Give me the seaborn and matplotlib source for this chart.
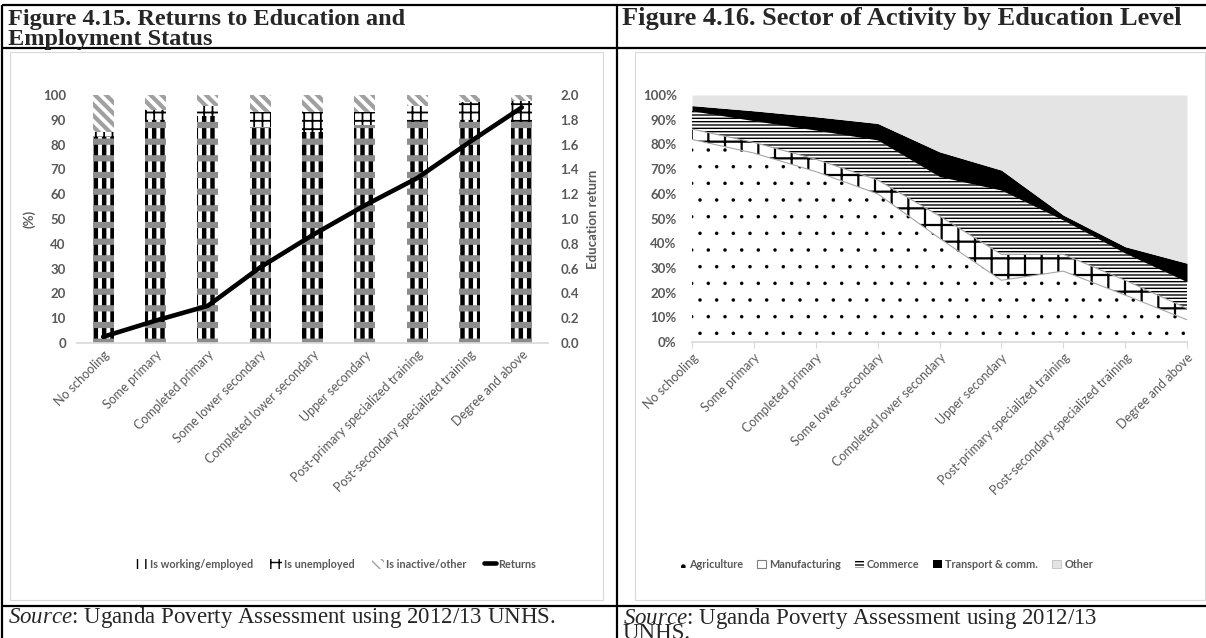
import numpy as np
import pandas as pd
import matplotlib
matplotlib.use("Agg")
import matplotlib.pyplot as plt
import seaborn as sns
from matplotlib.patches import Rectangle, Patch
from matplotlib.lines import Line2D
from matplotlib.legend_handler import HandlerTuple

# ---------------- data ----------------
levels = ["No schooling", "Some primary", "Completed primary", "Some lower secondary",
          "Completed lower secondary", "Upper secondary",
          "Post-primary specialized training", "Post-secondary specialized training",
          "Degree and above"]

# Figure 4.15: employment status shares (%) and education returns
working = [83, 90, 91.5, 87, 85, 88, 89, 90, 89]
unemployed = [2, 4, 4, 6, 8, 5, 6.5, 7, 8.5]
inactive = [15, 6, 4.5, 7, 7, 7, 4.5, 3, 2.5]
returns = [0.05, 0.18, 0.30, 0.61, 0.87, 1.11, 1.33, 1.62, 1.90]

# Figure 4.16: sector of activity shares (%)
agriculture = [82, 76.5, 69, 60, 42, 25, 28.7, 19, 9]
manufacturing = [4.2, 4.3, 5, 5.6, 9, 10.5, 6.8, 6, 4.6]
commerce = [7.4, 8.8, 11.8, 16.2, 16, 26, 13.9, 11, 10.8]
transport = [2.1, 4, 5.4, 6.7, 10, 8.1, 2, 2.6, 7.5]
other = [4.3, 6.4, 8.8, 11.5, 23, 30.4, 48.6, 61.4, 68.1]

pct_ticks = list(range(0, 101, 10))
ret_ticks = [0.0, 0.2, 0.4, 0.6, 0.8, 1.0, 1.2, 1.4, 1.6, 1.8, 2.0]

# ---------------- style ----------------
sns.set_theme(style="white")
plt.rcParams["font.family"] = ["Lato", "DejaVu Sans"]
plt.rcParams["hatch.linewidth"] = 1.0
plt.rcParams["mathtext.fontset"] = "custom"
plt.rcParams["mathtext.rm"] = "Liberation Serif"
plt.rcParams["mathtext.it"] = "Liberation Serif:italic"

W, H = 1206, 638
fig = plt.figure(figsize=(W / 100, H / 100), dpi=100)
GREY_TXT = "#595959"
AX_LINE = "#D9D9D9"
SERIF = ["Liberation Serif", "DejaVu Serif"]
LEG_PROP = {"family": ["Lato", "DejaVu Sans"], "weight": "bold", "size": 7.8}
TICK_SIZE = 9.0


def rect(x0, y0, x1, y1):
    return [x0 / W, 1 - y1 / H, (x1 - x0) / W, (y1 - y0) / H]


def fx(x):
    return x / W


def fy(y):
    return 1 - y / H


def hatch_style(artists, face, hatch, hcolor, hlw):
    for a in artists:
        a.set_facecolor(face)
        a.set_edgecolor(hcolor)
        a.set_linewidth(0)
        if hatch:
            a.set_hatch(hatch)
        if hasattr(a, "set_hatch_linewidth"):
            a.set_hatch_linewidth(hlw)
    return artists


# ---------------- table frame ----------------
def hline(y, x0, x1, lw=1.6):
    fig.add_artist(Line2D([fx(x0), fx(x1)], [fy(y), fy(y)], transform=fig.transFigure,
                          color="black", lw=lw, solid_capstyle="butt"))


def vline(x, y0, y1, lw=1.6):
    fig.add_artist(Line2D([fx(x), fx(x)], [fy(y0), fy(y1)], transform=fig.transFigure,
                          color="black", lw=lw, solid_capstyle="butt"))


hline(5, 2, W)
hline(48, 2, W)
hline(606, 2, W)
vline(2, 5, H)
vline(617, 5, H)

# chart frames
for (x0, y0, x1, y1) in [(10, 52, 603, 600), (635, 52, 1205, 600)]:
    fig.add_artist(Rectangle((fx(x0), fy(y1)), fx(x1) - fx(x0), fy(y0) - fy(y1),
                             transform=fig.transFigure, fill=False,
                             edgecolor=AX_LINE, lw=0.8))

# titles and sources (multi-line texts are anchored on their last baseline)
fig.text(fx(8), fy(45), "Figure 4.15. Returns to Education and\nEmployment Status",
         family=SERIF, weight="bold", fontsize=17.5, va="baseline", ha="left",
         linespacing=0.92)
fig.text(fx(622), fy(25), "Figure 4.16. Sector of Activity by Education Level",
         family=SERIF, weight="bold", fontsize=19, va="baseline", ha="left")

fig.text(fx(8), fy(623), r"$\mathit{Source}$: Uganda Poverty Assessment using 2012/13 UNHS.",
         family=SERIF, fontsize=16.5, va="baseline", ha="left")
fig.text(fx(623), fy(639),
         "$\\mathit{Source}$: Uganda Poverty Assessment using 2012/13\nUNHS.",
         family=SERIF, fontsize=16.5, va="baseline", ha="left", linespacing=0.52)

# ---------------- Figure 4.15 ----------------
ax = fig.add_axes(rect(77, 95, 548, 343))
df = pd.DataFrame({"level": levels, "working": working,
                   "unemployed": unemployed, "inactive": inactive})
df["top_unemp"] = [w + u for w, u in zip(working, unemployed)]
df["top_all"] = [w + u + i for w, u, i in zip(working, unemployed, inactive)]

STY_INACT = dict(face="white", hatch="\\\\\\", hcolor="#A0A0A0", hlw=3.0)
STY_UNEMP = dict(face="white", hatch="++", hcolor="black", hlw=1.3)
STY_WORK1 = dict(face="white", hatch="||", hcolor="black", hlw=3.2)
STY_WORK2 = dict(face="none", hatch="-", hcolor="#8C8C8C", hlw=4.5)


def layer(col, sty):
    n0 = len(ax.patches)
    sns.barplot(data=df, x="level", y=col, ax=ax, width=0.4, color="white",
                saturation=1, errorbar=None)
    hatch_style(ax.patches[n0:], **sty)


layer("top_all", STY_INACT)
layer("top_unemp", STY_UNEMP)
layer("working", STY_WORK1)
layer("working", STY_WORK2)

ax.set_xlim(-0.5, len(levels) - 0.5)
ax.set_ylim(0, 100)
ax.set_yticks(pct_ticks)
ax.set_xlabel("")
ax.set_ylabel("(%)", color=GREY_TXT, fontsize=9.5, weight="bold", labelpad=5)
for s in ["top", "right", "left"]:
    ax.spines[s].set_visible(False)
ax.spines["bottom"].set_color(AX_LINE)
ax.tick_params(axis="y", length=0, pad=8, labelcolor=GREY_TXT, labelsize=9.5)
ax.tick_params(axis="x", length=0, pad=4, labelcolor=GREY_TXT, labelsize=TICK_SIZE)
for lab in ax.get_yticklabels():
    lab.set_fontweight("bold")
ax.set_xticks(range(len(levels)))
ax.set_xticklabels(levels, rotation=45, ha="right", rotation_mode="anchor")

ax2 = ax.twinx()
sns.lineplot(x=list(range(len(levels))), y=returns, ax=ax2, color="black", lw=3.3)
ax2.set_ylim(0, 2.0)
ax2.set_yticks(ret_ticks)
ax2.set_yticklabels([f"{v:.1f}" for v in ret_ticks])
ax2.set_ylabel("Education return", color=GREY_TXT, fontsize=9.5, weight="bold", labelpad=6)
for s in ax2.spines.values():
    s.set_visible(False)
ax2.tick_params(axis="y", length=0, pad=9, labelcolor=GREY_TXT, labelsize=9.5)
for lab in ax2.get_yticklabels():
    lab.set_fontweight("bold")

h_work = tuple(hatch_style([Patch()], **s)[0] for s in [STY_WORK1, STY_WORK2])
h_unemp = hatch_style([Patch()], **STY_UNEMP)[0]
h_inact = hatch_style([Patch()], **STY_INACT)[0]
h_ret = Line2D([], [], color="black", lw=3.3)
fig.legend([h_work, h_unemp, h_inact, h_ret],
           ["Is working/employed", "Is unemployed", "Is inactive/other", "Returns"],
           handler_map={tuple: HandlerTuple(ndivide=1, pad=0)},
           loc="center", bbox_to_anchor=(fx(336), fy(564)), ncol=4, frameon=False,
           prop=LEG_PROP, labelcolor=GREY_TXT, handlelength=1.1, handleheight=1.0,
           handletextpad=0.2, columnspacing=1.6)

# ---------------- Figure 4.16 ----------------
bx = fig.add_axes(rect(692, 95, 1187, 342))
xs = list(range(len(levels)))
polys = bx.stackplot(xs, agriculture, manufacturing, commerce, transport, other)
STY_AGRI = dict(face="white", hatch=".", hcolor="black", hlw=0.1)
STY_MANU = dict(face="white", hatch="+", hcolor="black", hlw=1.6)
STY_COMM = dict(face="white", hatch="-----", hcolor="black", hlw=1.0)
hatch_style([polys[0]], **STY_AGRI)
hatch_style([polys[1]], **STY_MANU)
hatch_style([polys[2]], **STY_COMM)
hatch_style([polys[3]], face="black", hatch=None, hcolor="black", hlw=0)
hatch_style([polys[4]], face="#E4E4E4", hatch=None, hcolor="#E4E4E4", hlw=0)

cum_agri = list(agriculture)
cum_manu = [a + m for a, m in zip(agriculture, manufacturing)]
sns.lineplot(x=xs, y=cum_agri, ax=bx, color="#A6A6A6", lw=0.8)
sns.lineplot(x=xs, y=cum_manu, ax=bx, color="#A6A6A6", lw=0.8)

bx.set_xlim(0, len(levels) - 1)
bx.set_ylim(0, 100)
bx.set_yticks(pct_ticks)
bx.set_yticklabels([f"{v}%" for v in pct_ticks])
bx.set_xticks(xs)
bx.set_xticklabels(levels, rotation=45, ha="right", rotation_mode="anchor")
for s in ["top", "right", "left"]:
    bx.spines[s].set_visible(False)
bx.spines["bottom"].set_color(AX_LINE)
bx.tick_params(axis="y", length=0, pad=11, labelcolor=GREY_TXT, labelsize=9.5)
bx.tick_params(axis="x", length=4, width=0.8, color=AX_LINE, direction="out", pad=3,
               labelcolor=GREY_TXT, labelsize=TICK_SIZE, bottom=True)
for lab in bx.get_yticklabels():
    lab.set_fontweight("bold")

leg_handles = [hatch_style([Patch()], face="white", hatch=".", hcolor="black", hlw=0.1)[0],
               Patch(facecolor="white", edgecolor="#7F7F7F", lw=0.8),
               hatch_style([Patch()], **STY_COMM)[0],
               Patch(facecolor="black", edgecolor="black", lw=0),
               Patch(facecolor="#E4E4E4", edgecolor="#BFBFBF", lw=0.6)]
fig.legend(leg_handles, ["Agriculture", "Manufacturing", "Commerce", "Transport & comm.", "Other"],
           loc="center", bbox_to_anchor=(fx(885), fy(564)), ncol=5, frameon=False,
           prop=LEG_PROP, labelcolor=GREY_TXT, handlelength=0.8, handleheight=0.8,
           handletextpad=0.3, columnspacing=1.3)

fig.savefig("out.png", dpi=100)
